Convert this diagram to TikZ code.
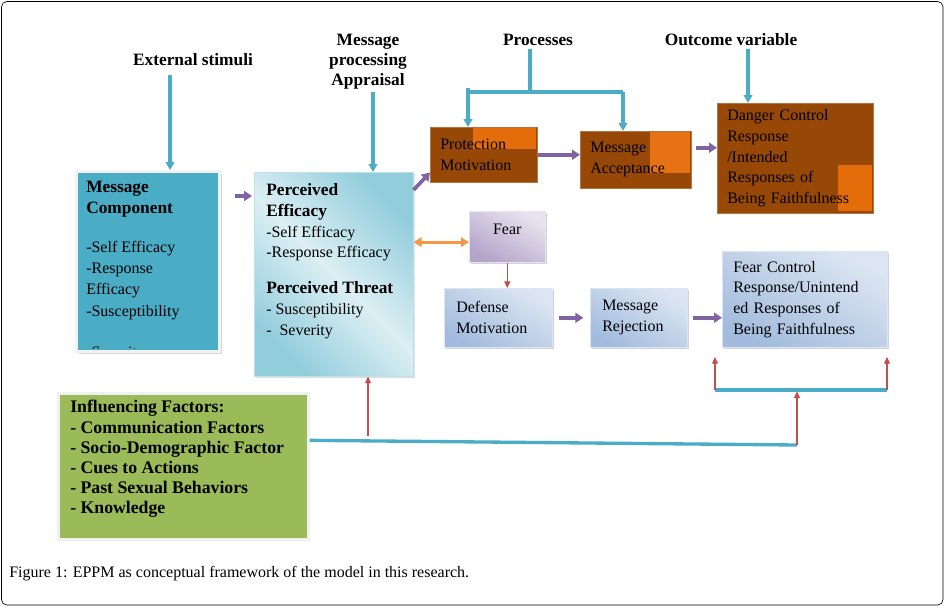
\documentclass[tikz,border=0pt]{standalone}
\usepackage{fontspec}
\setmainfont{Liberation Serif}
\usetikzlibrary{positioning, arrows.meta, shadows}

\definecolor{stimcyan}{HTML}{4BACC6}
\definecolor{flowpurple}{HTML}{8064A2}
\definecolor{fearred}{HTML}{C0504D}
\definecolor{linkorange}{HTML}{F79646}
\definecolor{dangerbrown}{HTML}{974806}
\definecolor{dangerpatch}{HTML}{E46C0A}
\definecolor{factorgreen}{HTML}{9BBB59}
\definecolor{appraisallight}{HTML}{DCEFF4}
\definecolor{appraisaldark}{HTML}{92CDDC}
\definecolor{fearlight}{HTML}{E8E3EF}
\definecolor{feardark}{HTML}{B4A4C9}
\definecolor{controllight}{HTML}{DCE6F2}
\definecolor{controldark}{HTML}{A3BCDD}

\tikzstyle{headtext} = [font=\fontsize{13}{15}\selectfont\bfseries, align=center, inner sep=0pt]
\tikzstyle{plaintext} = [font=\fontsize{12}{15.5}\selectfont, align=left, inner sep=0pt, anchor=north west]
\tikzstyle{basebox} = [rectangle, anchor=north west, align=left, inner ysep=0pt, font=\fontsize{12}{15.5}\selectfont]
\tikzstyle{brownbox} = [basebox, draw=dangerbrown!75!white, fill=dangerbrown, thin]
\tikzstyle{bluebox} = [basebox, draw=controllight, top color=controllight, bottom color=controldark, shading angle=-30, drop shadow={shadow xshift=1.5pt, shadow yshift=-1.5pt, fill=gray!70}]
\tikzstyle{fearbox} = [basebox, draw=fearlight, top color=fearlight, bottom color=feardark, shading angle=-30, drop shadow={shadow xshift=1.5pt, shadow yshift=-1.5pt, fill=gray!70}]
\tikzstyle{percvbox} = [rectangle, anchor=north west, draw=appraisaldark!60, left color=appraisaldark, right color=appraisaldark, middle color=appraisallight, shading angle=135, drop shadow={shadow xshift=1.5pt, shadow yshift=-1.5pt, fill=gray!50}]
\tikzstyle{msgbox} = [rectangle, anchor=north west, draw=gray!10, line width=2pt, fill=stimcyan, drop shadow={shadow xshift=2pt, shadow yshift=-2pt, fill=gray!60}]
\tikzstyle{factorbox} = [rectangle, anchor=north west, draw=gray!12, line width=2pt, fill=factorgreen, drop shadow={shadow xshift=1.5pt, shadow yshift=-1.5pt, fill=gray!60}]
\tikzstyle{cyanline} = [draw=stimcyan, line width=2.5pt]
\tikzstyle{cyanarrow} = [cyanline, -{Triangle[length=6pt, width=6.5pt]}]
\tikzstyle{purplearrow} = [draw=flowpurple, line width=2.8pt, -{Triangle[length=6pt, width=7.5pt]}]
\tikzstyle{redarrow} = [draw=fearred, line width=0.9pt, -{Triangle[length=5pt, width=4.5pt]}]
\tikzstyle{orangearrow} = [draw=linkorange, line width=2.2pt, {Triangle[length=6pt, width=7pt]}-{Triangle[length=6pt, width=7pt]}]

\begin{document}
\begin{tikzpicture}[x=0.75pt, y=-0.75pt]
  \useasboundingbox (0,0) rectangle (945,607);
  \draw[rounded corners=4pt, line width=0.5pt] (1.5,1.5) rectangle (943,605);

  % column headings
  \node[headtext, anchor=base] (stimuli) at (193,65) {External stimuli};
  \node[headtext, anchor=north] (appraisal) at (368,33.5) {Message\\processing\\Appraisal};
  \node[headtext, anchor=base] (processes) at (538,45) {Processes};
  \node[headtext, anchor=base] (outcome) at (731,45) {Outcome variable};

  % message component
  \node[msgbox, minimum width=107.25pt, minimum height=135pt] (msgcomp) at (75,170) {};
  \begin{scope}
    \clip (msgcomp.north west) rectangle ([yshift=3.5pt]msgcomp.south east);
    \node[plaintext, font=\fontsize{12}{16}\selectfont] (msgtext) at (86,180.5) {{\bfseries\fontsize{13}{16}\selectfont Message}\\{\bfseries\fontsize{13}{16}\selectfont Component}\\[13pt]-Self Efficacy\\-Response\\Efficacy\\-Susceptibility\\[15pt]-Severity};
  \end{scope}

  % perceived efficacy / threat
  \node[percvbox, minimum width=119.25pt, minimum height=153pt] (perceived) at (254,172) {};
  \node[plaintext] (percvtext) at (266,183.4) {{\bfseries\fontsize{13}{15.5}\selectfont Perceived}\\{\bfseries\fontsize{13}{15.5}\selectfont Efficacy}\\-Self Efficacy\\-Response Efficacy\\[11.5pt]{\bfseries\fontsize{13}{15.5}\selectfont Perceived Threat}\\- Susceptibility\\-\ \ Severity};

  % danger control path
  \node[brownbox, text width=65.25pt, inner xsep=7.5pt, minimum height=41.25pt,
        path picture={\fill[dangerpatch] ([xshift=-1pt]path picture bounding box.north east) rectangle +(-47pt,-16pt);}] (protect) at (430,127) {Protection\\Motivation};
  \node[brownbox, text width=68.25pt, inner xsep=7.5pt, minimum height=42.75pt,
        path picture={\fill[dangerpatch!85!linkorange] ([xshift=-0.75pt]path picture bounding box.north east) rectangle +(-30pt,-31.5pt);}] (accept) at (580,131) {Message\\Acceptance};
  \node[brownbox, text width=102pt, inner xsep=7.5pt, minimum height=82.5pt,
        path picture={\fill[dangerpatch] ([xshift=-0.75pt, yshift=1.5pt]path picture bounding box.south east) rectangle +(-26pt,34.5pt);}] (danger) at (717,103) {Danger Control\\Response\\/Intended\\Responses of\\Being Faithfulness};

  % fear control path
  \node[fearbox, minimum width=57pt, minimum height=38.25pt, align=center, text depth=12pt] (fear) at (469,211) {Fear};
  \node[bluebox, text width=63pt, inner xsep=9pt, minimum height=44.25pt] (defense) at (444,288) {Defense\\Motivation};
  \node[bluebox, text width=54.75pt, inner xsep=9pt, minimum height=44.25pt] (reject) at (590,288) {Message\\Rejection};
  \node[bluebox, text width=107.25pt, inner xsep=8.25pt, minimum height=72pt] (fearctrl) at (722,251) {Fear Control\\Response/Unintend\\ed Responses of\\Being Faithfulness};

  % influencing factors
  \node[factorbox, minimum width=187.5pt, minimum height=109.5pt] (factors) at (57,392) {};
  \node[plaintext, font=\fontsize{13.3}{15.15}\selectfont\bfseries] (factortext) at (70,400.2) {Influencing Factors:\\- Communication Factors\\- Socio-Demographic Factor\\- Cues to Actions\\- Past Sexual Behaviors\\- Knowledge};

  % heading arrows
  \coordinate (stimtop) at (170,75);
  \draw[cyanarrow] (stimtop) -- (stimtop |- msgcomp.north);
  \coordinate (apptop) at (373,92);
  \draw[cyanarrow] (apptop) -- (apptop |- perceived.north);
  \coordinate (proctop) at (530,49);
  \coordinate (procbar) at (530,92);
  \coordinate (barleft) at (468,92);
  \coordinate (barright) at (623,92);
  \draw[cyanline] (proctop) -- (procbar);
  \draw[cyanline] (barleft) -- (barright);
  \draw[cyanarrow] ([yshift=3pt]barleft) -- (barleft |- protect.north);
  \draw[cyanarrow] (barright) -- (barright |- accept.north);
  \coordinate (outtop) at (748,49);
  \draw[cyanarrow] (outtop) -- (outtop |- danger.north);

  % flow arrows
  \draw[purplearrow] ([xshift=10.5pt, yshift=-19.5pt]msgcomp.north east) -- ([xshift=-1.5pt, yshift=-18pt]perceived.north west);
  \draw[purplearrow] ([yshift=-13.5pt]perceived.north east) -- ([yshift=7.5pt]protect.south west);
  \draw[purplearrow] (protect.east) -- (protect.east -| accept.west);
  \coordinate (acceptout) at ([xshift=3pt, yshift=9pt]accept.east);
  \draw[purplearrow] (acceptout) -- (acceptout -| danger.west);
  \coordinate (fearlink) at ([yshift=-4pt]fear.west);
  \draw[orangearrow] (perceived.east |- fearlink) -- (fearlink);
  \draw[redarrow] (fear.south) -- (fear.south |- defense.north);
  \draw[purplearrow] ([xshift=4.5pt]defense.east) -- ([xshift=-5pt]reject.west);
  \draw[purplearrow] ([xshift=4pt]reject.east) -- (reject.east -| fearctrl.west);

  % feedback from influencing factors
  \coordinate (joinpt) at (797,445);
  \coordinate (perctail) at (368,436);
  \coordinate (fbleft) at (715,390);
  \coordinate (fbright) at (887,390);
  \draw[cyanline] ([yshift=19.5pt]factors.east) -- (joinpt);
  \draw[redarrow] (perctail) -- (perctail |- perceived.south);
  \draw[redarrow] (joinpt) -- ([yshift=-1pt]joinpt |- fbleft);
  \draw[cyanline] (fbleft) -- (fbright);
  \draw[redarrow] (fbleft) -- ++(0,-33);
  \draw[redarrow] (fbright) -- ++(0,-33);

  % caption
  \node[anchor=base west, inner sep=0pt, font=\fontsize{12}{14}\selectfont] (caption) at (9,577) {Figure 1: EPPM as conceptual framework of the model in this research.};
\end{tikzpicture}
\end{document}
